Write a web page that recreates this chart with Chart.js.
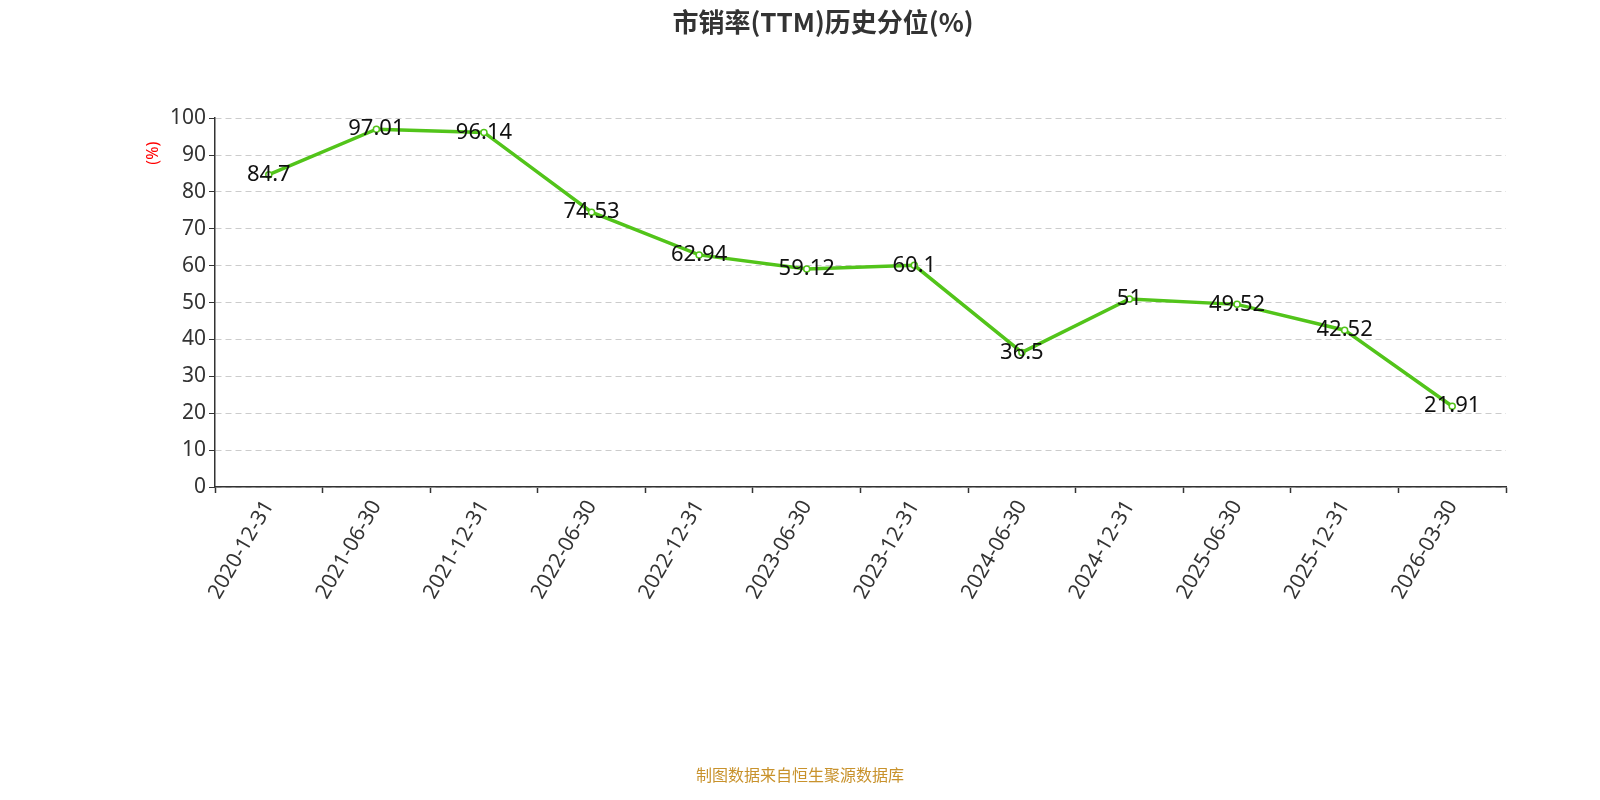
<!DOCTYPE html>
<html>
<head>
<meta charset="utf-8">
<script src="https://cdn.jsdelivr.net/npm/chart.js@4"></script>
<style>
  body { margin: 0; background: #fff; }
  #wrap { position: relative; width: 1600px; height: 800px; }
  #foot { position: absolute; left: 0; width: 1600px; top: 762px; text-align: center;
          font: 16px "Noto Sans CJK SC", sans-serif; color: #c8922c; }
</style>
</head>
<body>
<div id="wrap">
  <canvas id="chart" width="1600" height="800"></canvas>
  <div id="foot">制图数据来自恒生聚源数据库</div>
</div>
<script>
// dates and percentile values
var dates = ['2020-12-31', '2021-06-30', '2021-12-31', '2022-06-30', '2022-12-31', '2023-06-30',
             '2023-12-31', '2024-06-30', '2024-12-31', '2025-06-30', '2025-12-31', '2026-03-30'];
var values = [84.7, 97.01, 96.14, 74.53, 62.94, 59.12, 60.1, 36.5, 51, 49.52, 42.52, 21.91];
var yTicks = [0, 10, 20, 30, 40, 50, 60, 70, 80, 90, 100];

// draw the value on each point, plus the unit label
var valueLabels = {
    id: 'valueLabels',
    afterDatasetsDraw(chart) {
        let ctx = chart.ctx;
        let meta = chart.getDatasetMeta(0);
        ctx.save();
        ctx.font = '22px "Noto Sans", sans-serif';
        ctx.fillStyle = '#111';
        ctx.textAlign = 'center';
        ctx.textBaseline = 'middle';
        meta.data.forEach((pt, i) => {
            ctx.fillText(String(values[i]), pt.x, pt.y);
        });
        // unit
        ctx.translate(153, chart.chartArea.top + 35);
        ctx.rotate(-Math.PI / 2);
        ctx.font = '16px "Noto Sans", sans-serif';
        ctx.fillStyle = 'red';
        ctx.fillText('(%)', 0, 0);
        ctx.restore();
    }
}

var chart = new Chart('chart', {
    type: 'line',
    data: {
        labels: dates,
        datasets: [{
            data: values,
            borderColor: '#52c41a',
            borderWidth: 3.5,
            pointRadius: 3,
            pointBorderWidth: 1.5,
            pointBackgroundColor: '#fff',
            pointBorderColor: '#52c41a',
            tension: 0
        }]
    },
    options: {
        responsive: false,
        animation: false,
        layout: { padding: { left: 140, right: 94, top: 0, bottom: 0 } },
        plugins: {
            legend: { display: false },
            tooltip: { enabled: false },
            title: {
                display: true,
                text: '市销率(TTM)历史分位(%)',
                color: '#333',
                font: { size: 26, weight: 'bold', family: '"Noto Sans CJK SC", sans-serif' },
                padding: { top: 7, bottom: 80 }
            }
        },
        scales: {
            x: {
                offset: true,
                grid: { color: 'rgba(0,0,0,0)', offset: true, drawTicks: true, tickLength: 6, tickColor: '#333', tickWidth: 1.5 },
                border: { color: '#333', width: 1.5 },
                ticks: {
                    color: '#333', maxRotation: 60, minRotation: 60,
                    font: { size: 21, family: '"Noto Sans", sans-serif' }
                },
                afterFit(scale) { scale.height = 313; }
            },
            y: {
                min: 0, max: 100,
                afterBuildTicks(scale) { scale.ticks = yTicks.map(v => ({ value: v })); },
                grid: { color: '#ccc', drawTicks: true, tickLength: 6, tickColor: '#333' },
                border: { color: '#333', width: 1.5, dash: [6, 4] },
                ticks: { color: '#333', font: { size: 21, family: '"Noto Sans", sans-serif' } },
                afterFit(scale) { scale.width = 75; }
            }
        }
    },
    plugins: [valueLabels]
})
</script>
</body>
</html>
